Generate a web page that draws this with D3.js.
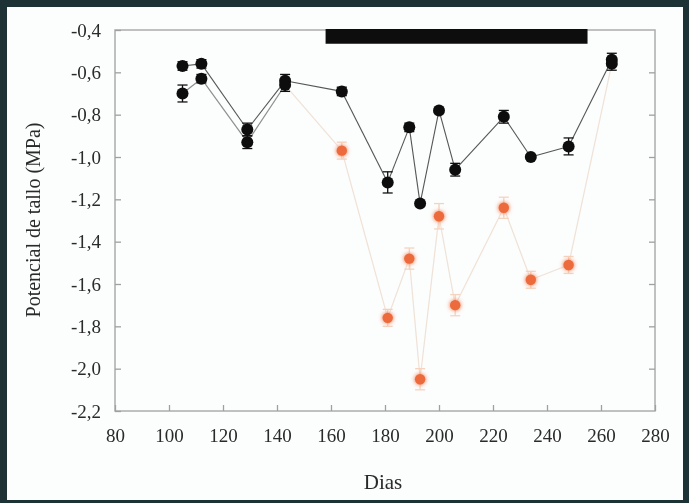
<!DOCTYPE html>
<meta charset="utf-8">
<script src="https://d3js.org/d3.v7.min.js"></script>
<style>
body { margin: 0; background: #1c3235; }
svg text { font-family: "Liberation Serif", "DejaVu Serif", serif; fill: #2a2a2a; }
</style>
<svg id="chart" width="689" height="503">
  <defs>
    <filter id="soft" x="-5%" y="-5%" width="110%" height="110%">
      <feGaussianBlur stdDeviation="0.55" />
    </filter>
    <filter id="glow" x="-100%" y="-100%" width="300%" height="300%">
      <feGaussianBlur in="SourceGraphic" stdDeviation="2.2" result="b" />
      <feMerge><feMergeNode in="b" /><feMergeNode in="SourceGraphic" /></feMerge>
    </filter>
  </defs>
</svg>
<script>
// days of measurement
var days = [105, 112, 129, 143, 164, 181, 189, 193, 200, 206, 224, 234, 248, 264];
// control (black)
var control    = [-0.57, -0.56, -0.87, -0.64, -0.69, -1.12, -0.86, -1.22, -0.78, -1.06, -0.81, -1.00, -0.95, -0.54];
var controlErr = [0.02, 0.02, 0.03, 0.03, 0.02, 0.05, 0.02, 0.01, 0.01, 0.03, 0.03, 0.01, 0.04, 0.03];
// stressed treatment (orange while under stress)
var stress     = [-0.70, -0.63, -0.93, -0.66, -0.97, -1.76, -1.48, -2.05, -1.28, -1.70, -1.24, -1.58, -1.51, -0.56];
var stressErr  = [0.04, 0.02, 0.03, 0.03, 0.04, 0.04, 0.05, 0.05, 0.06, 0.05, 0.05, 0.04, 0.04, 0.03];
var stressPeriod = [158, 255];
var xTicks = [80, 100, 120, 140, 160, 180, 200, 220, 240, 260, 280];
var yTicks = [-0.4, -0.6, -0.8, -1.0, -1.2, -1.4, -1.6, -1.8, -2.0, -2.2];

var svg = d3.select("#chart");
svg.append("rect").attr("x", 7).attr("y", 7).attr("width", 676).attr("height", 493).attr("fill", "#fcfdfd");

var x = d3.scaleLinear().domain([80, 280]).range([115, 655]);
var y = d3.scaleLinear().domain([-0.4, -2.2]).range([30, 411]);

var fmt = d3.formatLocale({decimal: ",", thousands: ".", grouping: [3], currency: ["", ""], minus: "-"}).format(".1f");

var g = svg.append("g").attr("filter", "url(#soft)");

// frame
g.append("rect")
  .attr("x", x(80)).attr("y", y(-0.4))
  .attr("width", x(280) - x(80)).attr("height", y(-2.2) - y(-0.4))
  .attr("fill", "none").attr("stroke", "#acacac").attr("stroke-width", 1.5);

function styleAxis(sel) {
  sel.select(".domain").remove();
  sel.selectAll(".tick line").attr("stroke", "#a0a0a0").attr("stroke-width", 1.3);
  sel.selectAll(".tick text").attr("font-size", 19).attr("fill", "#2a2a2a")
    .style("font-family", "'Liberation Serif', serif");
}

g.append("g").attr("transform", "translate(" + x(80) + ",0)")
  .call(d3.axisLeft(y).tickValues(yTicks).tickFormat(fmt).tickSizeInner(-6).tickSizeOuter(0).tickPadding(14))
  .call(styleAxis);
g.append("g").attr("transform", "translate(" + x(280) + ",0)")
  .call(d3.axisRight(y).tickValues(yTicks.slice(1, -1)).tickFormat("").tickSizeInner(-6).tickSizeOuter(0))
  .call(styleAxis);
g.append("g").attr("transform", "translate(0," + y(-2.2) + ")")
  .call(d3.axisBottom(x).tickValues(xTicks).tickFormat(d3.format("d")).tickSizeInner(-6).tickSizeOuter(0).tickPadding(18))
  .call(styleAxis);

// stress period bar
g.append("rect")
  .attr("x", x(stressPeriod[0])).attr("y", y(-0.4) - 1)
  .attr("width", x(stressPeriod[1]) - x(stressPeriod[0]))
  .attr("height", y(-0.465) - y(-0.4) + 1)
  .attr("fill", "#0a0a0a");

function inStress(d) { return d >= stressPeriod[0] && d <= stressPeriod[1]; }

var ctl = days.map(function (d, i) { return {day: d, v: control[i], e: controlErr[i], orange: false}; });
var str = days.map(function (d, i) { return {day: d, v: stress[i], e: stressErr[i], orange: inStress(d)}; });

// lines
function segments(pts) {
  var s = [];
  for (var i = 1; i < pts.length; i++) s.push({a: pts[i - 1], b: pts[i]});
  return s;
}
g.selectAll(".lstress").data(segments(str)).enter().append("line")
  .attr("x1", function (d) { return x(d.a.day); }).attr("y1", function (d) { return y(d.a.v); })
  .attr("x2", function (d) { return x(d.b.day); }).attr("y2", function (d) { return y(d.b.v); })
  .attr("stroke", function (d) { return (d.a.orange || d.b.orange) ? "#efe2d6" : "#8f8f8f"; })
  .attr("stroke-width", 1.2);
g.selectAll(".lctl").data(segments(ctl)).enter().append("line")
  .attr("x1", function (d) { return x(d.a.day); }).attr("y1", function (d) { return y(d.a.v); })
  .attr("x2", function (d) { return x(d.b.day); }).attr("y2", function (d) { return y(d.b.v); })
  .attr("stroke", "#555").attr("stroke-width", 1.1);

// error bars and points
function drawPoints(pts) {
  var eb = g.append("g").selectAll("g").data(pts).enter().append("g")
    .attr("stroke", function (d) { return d.orange ? "#f6d3bf" : "#111"; })
    .attr("stroke-width", 1.3);
  eb.append("line")
    .attr("x1", function (d) { return x(d.day); }).attr("x2", function (d) { return x(d.day); })
    .attr("y1", function (d) { return y(d.v - d.e); }).attr("y2", function (d) { return y(d.v + d.e); });
  eb.append("line")
    .attr("x1", function (d) { return x(d.day) - 5; }).attr("x2", function (d) { return x(d.day) + 5; })
    .attr("y1", function (d) { return y(d.v - d.e); }).attr("y2", function (d) { return y(d.v - d.e); });
  eb.append("line")
    .attr("x1", function (d) { return x(d.day) - 5; }).attr("x2", function (d) { return x(d.day) + 5; })
    .attr("y1", function (d) { return y(d.v + d.e); }).attr("y2", function (d) { return y(d.v + d.e); });
  g.append("g").selectAll("circle").data(pts).enter().append("circle")
    .attr("cx", function (d) { return x(d.day); })
    .attr("cy", function (d) { return y(d.v); })
    .attr("r", function (d) { return d.orange ? 5.2 : 6; })
    .attr("fill", function (d) { return d.orange ? "#ec6a3a" : "#0a0a0a"; })
    .attr("filter", function (d) { return d.orange ? "url(#glow)" : null; });
}
drawPoints(str);
drawPoints(ctl);

// axis titles
g.append("text").attr("x", 383).attr("y", 489).attr("text-anchor", "middle")
  .attr("font-size", 21).text("Dias");
g.append("text").attr("transform", "translate(40,220) rotate(-90)").attr("text-anchor", "middle")
  .attr("font-size", 20).text("Potencial de tallo (MPa)");
</script>
